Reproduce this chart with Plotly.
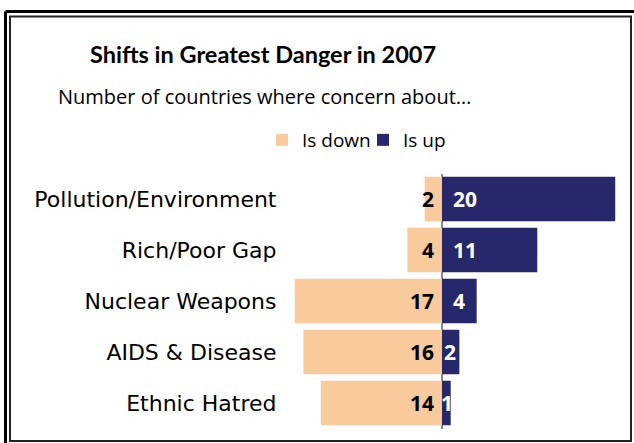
import plotly.graph_objects as go

categories = ["Pollution/Environment", "Rich/Poor Gap", "Nuclear Weapons",
              "AIDS & Disease", "Ethnic Hatred"]
is_down = [2, 4, 17, 16, 14]
is_up = [20, 11, 4, 2, 1]
series_names = ["Is down", "Is up"]
title_text = "Shifts in Greatest Danger in 2007"
subtitle_text = "Number of countries where concern about…"

W, H = 634, 443
PEACH = "#F8CA9C"
NAVY = "#27276B"
BODY_FONT = "Open Sans, Lato, sans-serif"
LABEL_FONT = "DejaVu Sans, Open Sans, sans-serif"
TITLE_FONT = "Lato, Open Sans, sans-serif"


def px(x):
    return x / W


def py(y):
    return 1 - y / H


fig = go.Figure()
fig.add_trace(go.Bar(
    y=categories, x=[-v for v in is_down], orientation="h",
    name=series_names[0], marker=dict(color=PEACH, line=dict(width=0)),
    hoverinfo="skip"))
fig.add_trace(go.Bar(
    y=categories, x=is_up, orientation="h",
    name=series_names[1], marker=dict(color=NAVY, line=dict(width=0)),
    hoverinfo="skip"))

annotations = []
for c, v in zip(categories, is_down):
    annotations.append(dict(x=0, y=c, xref="x", yref="y", text=str(v),
                            xanchor="right", yanchor="middle", xshift=-6,
                            showarrow=False,
                            font=dict(family=BODY_FONT, size=21, color="black",
                                      weight="bold")))
for c, v in zip(categories, is_up):
    shift = 9 if v >= 4 else 3 * v - 6
    annotations.append(dict(x=0, y=c, xref="x", yref="y", text=str(v),
                            xanchor="left", yanchor="middle", xshift=shift,
                            showarrow=False,
                            font=dict(family=BODY_FONT, size=21, color="white",
                                      weight="bold")))

annotations.append(dict(x=px(263), y=py(54), xref="paper", yref="paper",
                        text=title_text, showarrow=False, xanchor="center",
                        yanchor="middle",
                        font=dict(family=TITLE_FONT, size=23.5, color="black",
                                  weight="bold")))
annotations.append(dict(x=px(264), y=py(97), xref="paper", yref="paper",
                        text=subtitle_text, showarrow=False, xanchor="center",
                        yanchor="middle",
                        font=dict(family=BODY_FONT, size=20, color="black")))

shapes = [
    # outer frame lines (top and left)
    dict(type="line", xref="paper", yref="paper", x0=px(5.5), x1=px(640),
         y0=py(11.5), y1=py(11.5), line=dict(color="black", width=3)),
    dict(type="line", xref="paper", yref="paper", x0=px(5.5), x1=px(5.5),
         y0=py(11.5), y1=py(450), line=dict(color="black", width=3)),
    # inner frame
    dict(type="rect", xref="paper", yref="paper", x0=px(10), x1=px(631),
         y0=py(16.5), y1=py(441), line=dict(color="#222222", width=2)),
]

fig.update_layout(
    width=W, height=H,
    margin=dict(l=0, r=0, t=0, b=0),
    paper_bgcolor="white", plot_bgcolor="white",
    barmode="relative", bargap=0.13,
    showlegend=True,
    legend=dict(orientation="h", x=px(262), xanchor="left", y=py(140),
                yanchor="middle", traceorder="normal",
                font=dict(family=BODY_FONT, size=19, color="black"),
                itemwidth=30, entrywidth=56, bgcolor="rgba(0,0,0,0)"),
    xaxis=dict(range=[-19, 21], domain=[px(277.5), px(623.9)],
               showgrid=False, showticklabels=False, ticks="",
               zeroline=True, zerolinecolor="#8a8a8a", zerolinewidth=2,
               fixedrange=True),
    yaxis=dict(domain=[py(428.5), py(173.5)], autorange="reversed",
               showgrid=False, ticks="", zeroline=False, showline=False,
               tickfont=dict(family=LABEL_FONT, size=22, color="black"),
               fixedrange=True),
    annotations=annotations,
    shapes=shapes,
)

fig.write_html("out.html", config={"displayModeBar": False},
               post_script="document.body.style.margin='0';"
                           "document.body.style.overflow='hidden';")
